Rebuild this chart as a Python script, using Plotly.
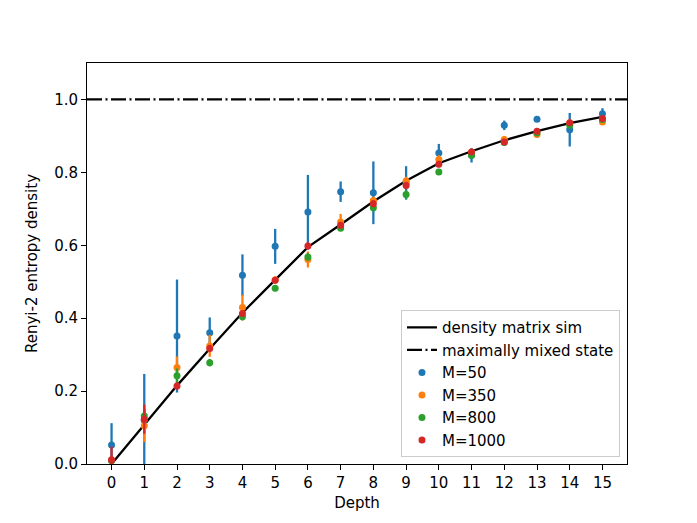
import plotly.graph_objects as go

depth = list(range(16))
sim = [0.0, 0.108, 0.215, 0.316, 0.415, 0.505, 0.595, 0.657, 0.72, 0.777, 0.825, 0.858, 0.888, 0.913, 0.935, 0.952]
mixed_level = 1.0

m50 = [0.052, 0.12, 0.351, 0.36, 0.518, 0.597, 0.691, 0.747, 0.744, 0.771, 0.853, 0.847, 0.929, 0.946, 0.917, 0.961]
m50_err = [0.06, 0.127, 0.155, 0.042, 0.057, 0.048, 0.102, 0.028, 0.086, 0.046, 0.025, 0.02, 0.013, 0.004, 0.046, 0.015]

m350 = [0.01, 0.105, 0.265, 0.324, 0.429, 0.505, 0.561, 0.664, 0.723, 0.776, 0.835, 0.855, 0.890, 0.904, 0.935, 0.938]
m350_err = [0.01, 0.045, 0.03, 0.03, 0.035, 0.01, 0.022, 0.022, 0.01, 0.012, 0.012, 0.01, 0.01, 0.008, 0.01, 0.008]

m800 = [0.009, 0.132, 0.242, 0.278, 0.404, 0.482, 0.568, 0.647, 0.703, 0.739, 0.801, 0.847, 0.882, 0.908, 0.929, 0.945]
m800_err = [0.01, 0.02, 0.02, 0.01, 0.01, 0.008, 0.01, 0.008, 0.01, 0.012, 0.008, 0.01, 0.008, 0.006, 0.008, 0.006]

m1000 = [0.012, 0.123, 0.214, 0.317, 0.413, 0.504, 0.598, 0.655, 0.714, 0.764, 0.822, 0.856, 0.883, 0.913, 0.936, 0.948]
m1000_err = [0.035, 0.04, 0.01, 0.01, 0.008, 0.008, 0.01, 0.008, 0.01, 0.01, 0.008, 0.006, 0.006, 0.005, 0.006, 0.005]

x_range = [-0.75, 15.75]
y_range = [0.0, 1.1]

FONT = "DejaVu Sans"
FS = 15
fig = go.Figure()

fig.add_trace(go.Scatter(x=depth, y=sim, mode="lines", name="density matrix sim",
                         line=dict(color="black", width=2.3)))
fig.add_trace(go.Scatter(x=x_range, y=[mixed_level, mixed_level], mode="lines",
                         name="maximally mixed state",
                         line=dict(color="black", width=2.3, dash="15px,3.5px,2px,3.5px")))

series = [("M=50", m50, m50_err, "#1f77b4"),
          ("M=350", m350, m350_err, "#ff7f0e"),
          ("M=800", m800, m800_err, "#2ca02c"),
          ("M=1000", m1000, m1000_err, "#d62728")]
for name, vals, errs, col in series:
    fig.add_trace(go.Scatter(x=depth, y=vals, mode="markers", name=name,
                             marker=dict(color=col, size=7),
                             error_y=dict(type="data", array=errs, visible=True,
                                          color=col, thickness=2.3, width=0)))

axis_common = dict(showgrid=False, zeroline=False, showline=True, linecolor="black",
                   linewidth=1, mirror=True, ticks="outside", ticklen=5, tickwidth=1,
                   tickcolor="black", tickfont=dict(family=FONT, size=FS, color="black"))

fig.update_layout(
    width=697, height=523,
    margin=dict(l=79, r=78, t=55, b=67),
    paper_bgcolor="white", plot_bgcolor="white",
    font=dict(family=FONT, size=FS, color="black"),
    xaxis=dict(range=x_range, tickmode="array", tickvals=depth,
               title=dict(text="Depth", font=dict(family=FONT, size=FS), standoff=6),
               **axis_common),
    yaxis=dict(range=y_range, tickmode="array", tickvals=[0, 0.2, 0.4, 0.6, 0.8, 1.0],
               tickformat=".1f",
               title=dict(text="Renyi-2 entropy density", font=dict(family=FONT, size=FS), standoff=12),
               **axis_common),
    legend=dict(x=0.987, y=0.017, xanchor="right", yanchor="bottom",
                bordercolor="#cccccc", borderwidth=1, bgcolor="rgba(255,255,255,0.8)",
                font=dict(family=FONT, size=FS), tracegroupgap=0),
    showlegend=True,
)

fig.write_html("out.html")
